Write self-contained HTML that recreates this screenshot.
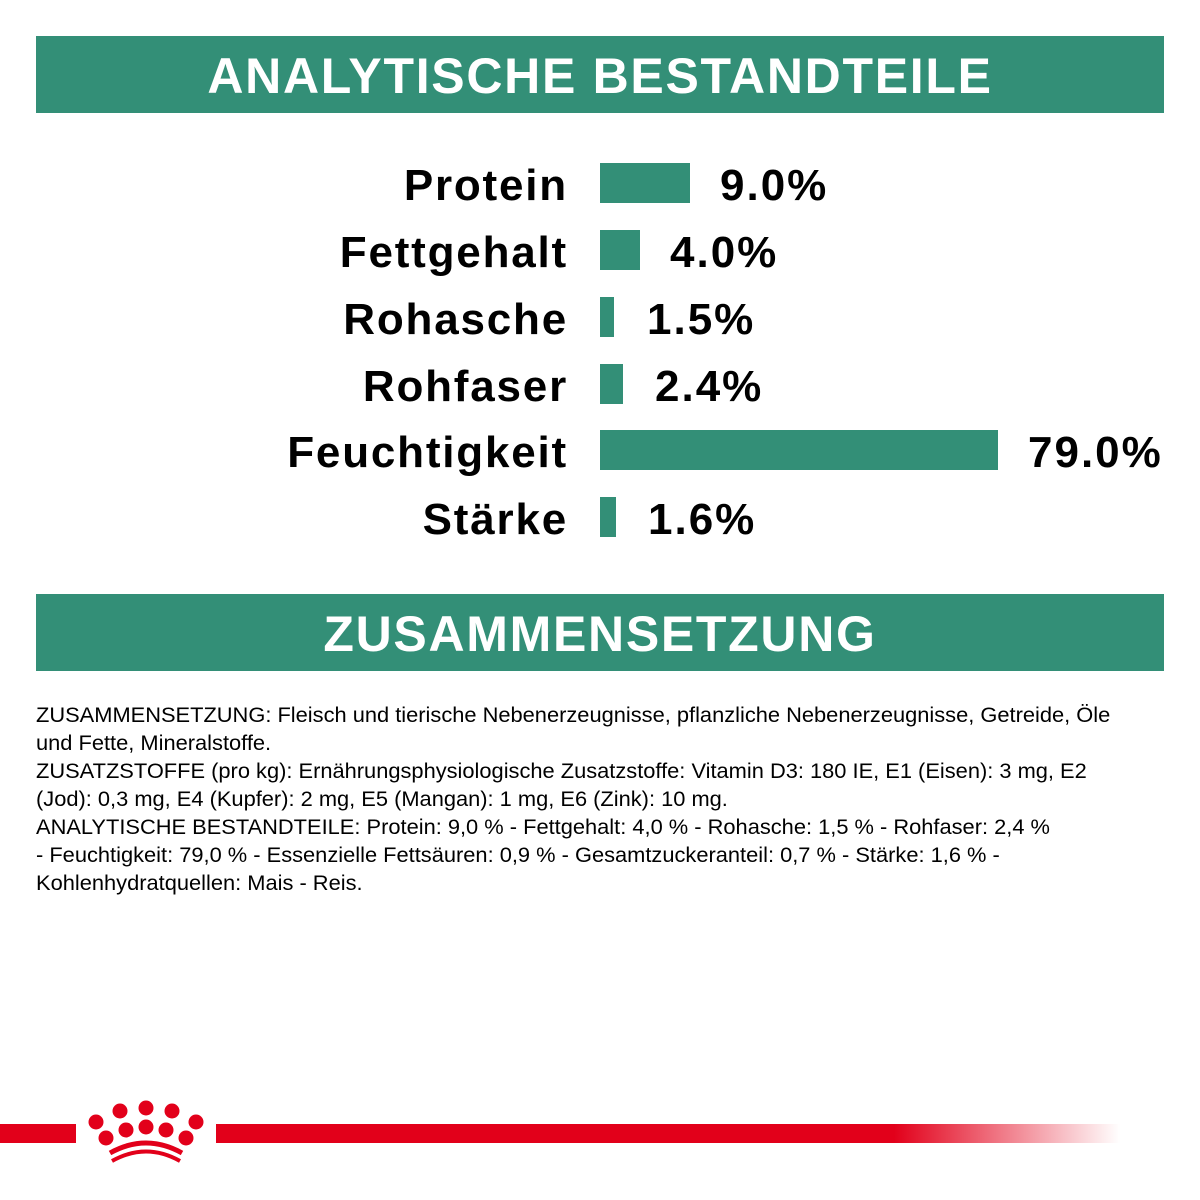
<!DOCTYPE html>
<html><head><meta charset="utf-8"><style>
body{margin:0;width:1200px;height:1200px;background:#fff;position:relative;overflow:hidden;font-family:"Liberation Sans","DejaVu Sans",sans-serif}
.bar{position:absolute;left:36px;width:1128px;height:77px;background:#338f77;color:#fff;font-weight:bold;font-size:50px;text-align:center;line-height:80px;letter-spacing:1.7px}
.lab{position:absolute;right:632px;font-weight:bold;font-size:44px;color:#000;line-height:40px;white-space:nowrap;letter-spacing:1.8px}
.b{position:absolute;left:600px;height:40px;background:#338f77}
.v{position:absolute;font-weight:bold;font-size:44px;line-height:40px;white-space:nowrap;letter-spacing:2px}
.txt{position:absolute;left:36px;top:702px;font-size:21px;line-height:28px;color:#000;transform:scaleX(1.04);transform-origin:left top;width:1100px}
</style></head><body>
<div class="bar" style="top:36px">ANALYTISCHE BESTANDTEILE</div>
<div class="lab" style="top:166px">Protein</div><div class="b" style="top:163px;width:90px"></div><div class="v" style="top:166px;left:720px">9.0%</div>
<div class="lab" style="top:233px">Fettgehalt</div><div class="b" style="top:230px;width:40px"></div><div class="v" style="top:233px;left:670px">4.0%</div>
<div class="lab" style="top:300px">Rohasche</div><div class="b" style="top:297px;width:14px"></div><div class="v" style="top:300px;left:647px">1.5%</div>
<div class="lab" style="top:367px">Rohfaser</div><div class="b" style="top:364px;width:23px"></div><div class="v" style="top:367px;left:655px">2.4%</div>
<div class="lab" style="top:433px">Feuchtigkeit</div><div class="b" style="top:430px;width:398px"></div><div class="v" style="top:433px;left:1028px">79.0%</div>
<div class="lab" style="top:500px">Stärke</div><div class="b" style="top:497px;width:16px"></div><div class="v" style="top:500px;left:648px">1.6%</div>
<div class="bar" style="top:594px">ZUSAMMENSETZUNG</div>
<div class="txt">ZUSAMMENSETZUNG: Fleisch und tierische Nebenerzeugnisse, pflanzliche Nebenerzeugnisse, Getreide, Öle<br>und Fette, Mineralstoffe.<br>ZUSATZSTOFFE (pro kg): Ernährungsphysiologische Zusatzstoffe: Vitamin D3: 180 IE, E1 (Eisen): 3 mg, E2<br>(Jod): 0,3 mg, E4 (Kupfer): 2 mg, E5 (Mangan): 1 mg, E6 (Zink): 10 mg.<br>ANALYTISCHE BESTANDTEILE: Protein: 9,0 % - Fettgehalt: 4,0 % - Rohasche: 1,5 % - Rohfaser: 2,4 %<br>- Feuchtigkeit: 79,0 % - Essenzielle Fettsäuren: 0,9 % - Gesamtzuckeranteil: 0,7 % - Stärke: 1,6 % -<br>Kohlenhydratquellen: Mais - Reis.</div>
<svg width="1200" height="1200" style="position:absolute;left:0;top:0">
<defs><linearGradient id="g" x1="0" x2="1"><stop offset="0.75" stop-color="#e2001a"/><stop offset="1" stop-color="#e2001a" stop-opacity="0"/></linearGradient></defs>
<rect x="0" y="1124" width="76" height="19" fill="#e2001a"/>
<rect x="216" y="1124" width="904" height="19" fill="url(#g)"/>
<g fill="#e2001a">
<circle cx="96" cy="1122" r="7.5"/><circle cx="120" cy="1111" r="7.5"/><circle cx="146" cy="1108" r="7.5"/><circle cx="172" cy="1111" r="7.5"/><circle cx="196" cy="1122" r="7.5"/>
<circle cx="106" cy="1138" r="7.5"/><circle cx="126" cy="1130" r="7.5"/><circle cx="146" cy="1127" r="7.5"/><circle cx="166" cy="1130" r="7.5"/><circle cx="186" cy="1138" r="7.5"/>
</g>
<path d="M110 1153 Q146 1133 182 1153" stroke="#e2001a" stroke-width="5" fill="none"/>
<path d="M112 1161 Q146 1142 180 1161" stroke="#e2001a" stroke-width="4" fill="none"/>
</svg>
</body></html>
